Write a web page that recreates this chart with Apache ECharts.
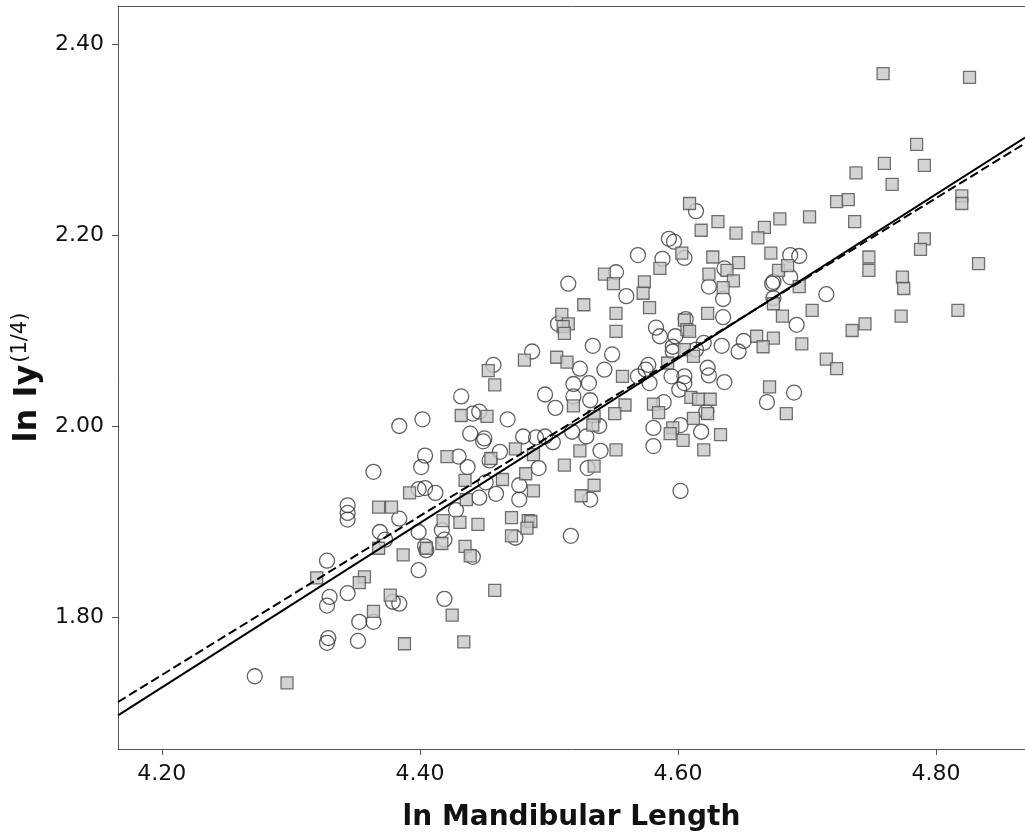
<!DOCTYPE html>
<html>
<head>
<meta charset="utf-8">
<script src="https://cdn.jsdelivr.net/npm/echarts@6/dist/echarts.min.js"></script>
<style>
html,body{margin:0;padding:0;background:#fff;}
#chart{width:1025px;height:834px;}
</style>
</head>
<body>
<div id="chart"></div>
<script>
// Tick labels
const xTicks = [4.20, 4.40, 4.60, 4.80];
const yTicks = [1.80, 2.00, 2.20, 2.40];

// Open circles group
const circleX = [4.272,4.328,4.330,4.328,4.344,4.329,4.328,4.352,4.353,4.364,4.379,4.384,4.344,4.344,4.344,4.364,4.384,4.369,4.373,4.399,
4.404,4.405,4.399,4.404,4.401,4.399,4.404,4.384,4.402,4.552,4.515,4.560,4.507,4.534,4.487,4.549,4.524,4.543,4.457,4.519,
4.531,4.497,4.432,4.519,4.532,4.505,4.441,4.446,4.468,4.539,4.439,4.449,4.450,4.480,4.490,4.497,4.503,4.518,4.529,4.462,
4.540,4.430,4.437,4.454,4.492,4.530,4.477,4.451,4.459,4.446,4.477,4.532,4.428,4.412,4.417,4.419,4.474,4.517,4.441,4.419,
4.614,4.593,4.597,4.569,4.588,4.605,4.636,4.687,4.694,4.687,4.673,4.674,4.624,4.635,4.715,4.674,4.635,4.606,4.692,4.583,
4.586,4.598,4.620,4.634,4.651,4.647,4.596,4.596,4.614,4.569,4.577,4.575,4.578,4.595,4.605,4.605,4.623,4.624,4.636,4.601,
4.669,4.690,4.589,4.581,4.602,4.618,4.622,4.581,4.602];
const circleY = [1.738,1.859,1.821,1.812,1.825,1.778,1.773,1.775,1.795,1.795,1.816,1.814,1.917,1.909,1.902,1.952,1.903,1.889,1.881,1.889,
1.874,1.870,1.849,1.969,1.957,1.934,1.935,2.000,2.007,2.161,2.149,2.136,2.107,2.084,2.078,2.075,2.060,2.059,2.064,2.044,
2.045,2.033,2.031,2.031,2.027,2.019,2.013,2.015,2.007,2.000,1.992,1.984,1.987,1.989,1.988,1.989,1.983,1.994,1.989,1.973,
1.974,1.968,1.957,1.964,1.956,1.956,1.938,1.941,1.929,1.925,1.923,1.923,1.912,1.930,1.891,1.881,1.883,1.885,1.863,1.819,
2.225,2.196,2.193,2.179,2.175,2.176,2.165,2.179,2.178,2.156,2.149,2.151,2.146,2.133,2.138,2.134,2.114,2.112,2.106,2.103,
2.094,2.094,2.087,2.084,2.089,2.078,2.083,2.078,2.080,2.052,2.064,2.059,2.045,2.052,2.052,2.045,2.061,2.053,2.046,2.038,
2.025,2.035,2.025,1.998,2.001,1.994,2.015,1.979,1.932];

// Filled squares group
const squareX = [4.392,4.368,4.378,4.405,4.368,4.387,4.320,4.357,4.353,4.377,4.364,4.388,4.297,4.543,4.550,4.527,4.552,4.510,4.515,4.511,
4.512,4.552,4.481,4.506,4.514,4.453,4.458,4.557,4.432,4.452,4.519,4.559,4.551,4.535,4.534,4.474,4.524,4.552,4.421,4.455,
4.488,4.512,4.535,4.482,4.464,4.435,4.535,4.525,4.488,4.436,4.418,4.431,4.445,4.471,4.484,4.486,4.483,4.471,4.417,4.435,
4.439,4.458,4.425,4.434,4.609,4.631,4.618,4.645,4.667,4.679,4.662,4.702,4.603,4.627,4.672,4.586,4.647,4.638,4.624,4.643,
4.678,4.685,4.574,4.635,4.694,4.573,4.578,4.674,4.681,4.704,4.623,4.605,4.607,4.609,4.661,4.674,4.666,4.696,4.605,4.612,
4.592,4.715,4.723,4.671,4.610,4.616,4.625,4.581,4.585,4.623,4.684,4.612,4.596,4.594,4.604,4.633,4.620,4.759,4.826,4.785,
4.760,4.791,4.738,4.766,4.723,4.732,4.820,4.820,4.737,4.791,4.788,4.748,4.748,4.833,4.774,4.775,4.817,4.773,4.745,4.735];
const squareY = [1.930,1.915,1.915,1.872,1.872,1.865,1.841,1.842,1.836,1.823,1.806,1.772,1.731,2.159,2.149,2.127,2.118,2.117,2.107,2.104,
2.097,2.099,2.069,2.072,2.067,2.058,2.043,2.052,2.011,2.010,2.021,2.022,2.013,2.010,2.001,1.976,1.974,1.975,1.968,1.966,
1.970,1.959,1.958,1.950,1.944,1.943,1.938,1.927,1.932,1.923,1.901,1.899,1.897,1.904,1.901,1.900,1.893,1.885,1.877,1.874,
1.864,1.828,1.802,1.774,2.233,2.214,2.205,2.202,2.208,2.217,2.197,2.219,2.181,2.177,2.181,2.165,2.171,2.163,2.159,2.152,
2.163,2.168,2.151,2.145,2.146,2.139,2.124,2.128,2.115,2.121,2.118,2.111,2.101,2.099,2.094,2.092,2.083,2.086,2.080,2.073,
2.066,2.070,2.060,2.041,2.030,2.028,2.028,2.023,2.014,2.013,2.013,2.008,1.998,1.992,1.985,1.991,1.975,2.369,2.365,2.295,
2.275,2.273,2.265,2.253,2.235,2.237,2.241,2.233,2.214,2.196,2.185,2.177,2.163,2.170,2.156,2.144,2.121,2.115,2.107,2.100];

// Fit lines (end points)
const lineX = [4.166, 4.869];
const solidY = [1.697, 2.302];
const dashedY = [1.711, 2.296];

const zip = (a, b) => a.map((v, i) => [v, b[i]]);

const chart = echarts.init(document.getElementById('chart'), null, {renderer: 'canvas'});
const tickFont = {fontFamily: 'DejaVu Sans', fontSize: 22, color: '#111'};
const xMin = 4.166, xMax = 4.869;

chart.setOption({
  animation: false,
  backgroundColor: '#fff',
  grid: {left: 118, right: 0, top: 6, bottom: 85, show: false, outerBoundsMode: 'none', containLabel: false},
  xAxis: [{
    type: 'value', min: xMin, max: xMax,
    name: 'ln Mandibular Length', nameLocation: 'middle', nameGap: 55,
    nameTextStyle: {fontFamily: 'DejaVu Sans', fontWeight: 'bold', fontSize: 28, color: '#111'},
    axisLine: {show: true, lineStyle: {color: '#555', width: 1}},
    axisTick: {show: true, length: 6, customValues: xTicks, lineStyle: {color: '#555'}},
    axisLabel: Object.assign({customValues: xTicks, margin: 14, formatter: v => v.toFixed(2)}, tickFont),
    splitLine: {show: false}
  }, {
    type: 'value', position: 'top', min: xMin, max: xMax,
    axisLine: {show: true, lineStyle: {color: '#555', width: 1}},
    axisTick: {show: false}, axisLabel: {show: false}, splitLine: {show: false}
  }],
  yAxis: {
    type: 'value', min: 1.6618, max: 2.4398,
    name: '{b|ln Iy}{s|(1/4)}', nameLocation: 'middle', nameGap: 72, nameRotate: 90,
    nameTextStyle: {
      rich: {
        b: {fontFamily: 'DejaVu Sans', fontWeight: 'bold', fontSize: 32, color: '#111'},
        s: {fontFamily: 'DejaVu Sans', fontSize: 21, color: '#111', padding: [0, 0, 15, 2]}
      }
    },
    axisLine: {show: true, lineStyle: {color: '#555', width: 1}},
    axisTick: {show: true, length: 6, customValues: yTicks, lineStyle: {color: '#555'}},
    axisLabel: Object.assign({customValues: yTicks, margin: 14, formatter: v => v.toFixed(2)}, tickFont),
    splitLine: {show: false}
  },
  series: [
    {
      type: 'scatter', data: zip(circleX, circleY), symbol: 'circle', symbolSize: 15, z: 2,
      itemStyle: {color: 'rgba(0,0,0,0)', borderColor: '#3a3a3a', borderWidth: 1.3}
    },
    {
      type: 'scatter', data: zip(squareX, squareY), symbol: 'rect', symbolSize: 12, z: 3,
      itemStyle: {color: '#c8c8c8', borderColor: '#505050', borderWidth: 1.3}
    },
    {
      type: 'line', data: zip(lineX, solidY), showSymbol: false, z: 5,
      lineStyle: {color: '#000', width: 2, type: 'solid'}
    },
    {
      type: 'line', data: zip(lineX, dashedY), showSymbol: false, z: 5,
      lineStyle: {color: '#000', width: 2, type: [9, 4]}
    }
  ]
});
</script>
</body>
</html>
